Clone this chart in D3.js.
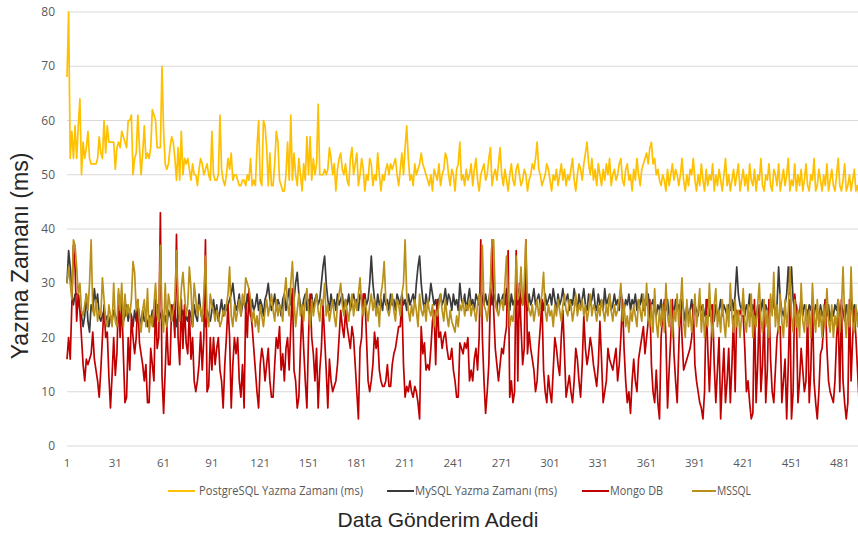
<!DOCTYPE html>
<html><head><meta charset="utf-8">
<script src="https://cdn.jsdelivr.net/npm/d3@7/dist/d3.min.js"></script>
<style>html,body{margin:0;padding:0;background:#fff;}svg{display:block;}</style>
</head><body>
<svg id="chart" width="858" height="534"></svg>
<script>
const seriesNames = ["PostgreSQL Yazma Zamanı (ms)", "MySQL Yazma Zamanı (ms)", "Mongo DB", "MSSQL"];
const xTickLabels = [1,31,61,91,121,151,181,211,241,271,301,331,361,391,421,451,481];
const yTickLabels = [0,10,20,30,40,50,60,70,80];
const xTitle = "Data Gönderim Adedi";
const yTitle = "Yazma Zamanı (ms)";

const postgres = [
68,80,53,58,53,59,53,59,64,50, 56,53,55,58,53,52,52,52,52,53, 57,54,53,60,54,59,56,56,56,56,
51,55,56,55,58,57,56,55,60,60, 61,50,53,54,61,55,50,54,59,53, 54,53,55,62,61,60,55,55,55,70,
58,52,51,52,55,57,56,53,49,55, 49,58,50,53,52,53,51,49,52,50, 50,48,51,53,52,50,51,52,50,49,
58,50,49,49,50,61,51,49,48,50, 53,51,54,49,50,50,49,48,48,49, 49,48,50,49,53,48,49,48,55,60,
49,48,60,59,55,48,54,48,48,52, 58,56,49,48,47,47,50,56,49,61, 49,54,50,48,53,50,47,52,49,57,
50,57,49,53,50,52,63,50,50,50, 51,50,51,55,53,50,52,47,51,53, 54,51,50,52,49,48,53,55,50,52,
54,48,50,53,51,47,50,49,53,52, 48,50,49,54,50,47,50,49,51,52, 50,52,51,52,53,50,48,51,54,50,
55,59,53,49,50,48,52,50,51,52, 54,52,51,50,49,48,50,47,51,50, 49,52,48,50,51,54,53,50,48,51,
50,47,51,52,56,49,50,48,51,49, 50,52,48,51,53,49,47,50,51,52, 49,50,53,55,48,50,51,49,52,55,
50,48,51,49,47,50,52,49,48,51, 52,50,48,49,51,50,47,49,50,52, 51,53,56,51,50,48,49,50,52,51,
49,47,50,49,51,48,50,52,49,51, 48,50,49,51,53,49,47,50,52,51, 49,52,54,56,52,50,53,49,51,48,
52,50,48,51,49,52,50,53,48,50, 51,49,50,52,53,49,48,51,52,49, 50,47,51,49,53,50,48,51,52,53,
54,52,55,56,52,53,50,51,49,48, 50,49,47,51,48,50,52,49,51,50, 48,50,53,49,47,50,48,51,50,53,
49,47,50,48,52,49,47,51,48,50, 49,52,47,50,48,51,49,47,50,53, 48,50,47,49,51,48,50,52,47,49,
51,48,50,47,52,49,48,51,47,50, 49,53,48,47,50,49,52,48,47,51, 50,48,52,47,49,51,48,50,53,47,
49,48,52,47,50,48,51,47,49,52, 48,47,50,49,53,47,48,51,49,47, 50,48,52,47,49,51,48,47,50,53,
48,47,49,52,47,48,50,47,49,51, 47,48,46,49,47,48,47,46,48,47
];

const mysql = [
30,36,33,28,26,28,28,28,25,24, 22,24,28,23,21,26,25,29,26,28, 24,23,24,25,23,24,22,24,23,25,
24,23,25,22,24,23,24,26,23,25, 24,22,25,23,26,24,22,25,23,24, 22,24,23,25,22,24,26,23,24,25,
23,24,22,25,24,23,26,24,22,25, 23,24,25,22,24,23,25,24,22,26, 24,23,28,25,23,24,22,25,24,23,
25,27,24,26,23,25,27,24,26,25, 26,27,28,30,27,25,26,28,24,26, 27,25,28,26,24,27,25,26,28,25,
27,26,24,27,28,30,27,25,26,28, 25,27,26,24,27,28,25,27,29,26, 28,27,30,32,28,26,25,27,28,25,
27,26,28,25,27,28,26,27,30,33, 35,30,27,25,28,26,27,25,28,26, 27,28,25,27,26,28,25,27,28,26,
27,25,28,27,26,28,26,27,30,35, 30,27,25,28,26,27,25,28,26,27, 25,28,26,27,25,28,27,26,28,26,
27,25,28,26,27,28,26,30,33,35, 30,27,25,28,26,27,30,28,26,27, 25,27,28,26,27,29,26,28,27,25,
28,26,27,25,30,27,26,28,25,27, 29,26,27,25,28,27,26,29,27,26, 28,26,27,29,26,28,27,25,28,26,
27,28,26,29,27,25,28,26,27,28, 26,29,27,26,28,27,25,28,26,27, 29,26,27,28,26,27,25,28,26,27,
28,26,29,27,25,28,26,27,29,26, 27,28,25,27,26,29,27,25,28,26, 27,29,26,25,28,26,27,29,26,25,
28,26,27,25,29,26,27,28,25,26, 28,26,27,25,29,26,25,27,26,28, 25,27,26,28,25,27,26,28,25,27,
26,28,25,26,27,25,24,26,25,27, 24,26,25,27,24,25,26,24,27,25, 26,24,27,25,23,26,24,25,27,24,
26,25,24,27,25,26,24,25,27,24, 26,25,23,26,24,25,27,24,26,25, 24,26,25,27,25,28,33,28,26,25,
27,24,26,25,28,24,26,25,23,26, 24,25,27,24,26,25,24,26,25,27, 24,26,33,27,25,24,26,28,33,28,
33,27,25,26,24,25,27,24,26,25, 24,26,25,27,24,26,25,23,26,24, 25,27,24,26,23,25,24,26,25,27,
24,26,25,23,26,24,25,27,24,26, 25,23,26,24,25,24,23,25,24,23
];

const mongo = [
16,20,16,26,37,33,23,28,25,20, 15,12,16,15,16,17,21,16,14,12, 9,14,20,26,20,21,13,7,13,20,
13,17,28,20,27,17,8,9,20,14, 24,20,17,20,27,19,17,15,12,15, 8,8,18,15,12,27,18,20,43,13,
6,14,22,15,15,26,25,20,39,20, 15,27,18,26,19,17,25,16,20,12, 10,12,15,21,14,20,38,10,11,20,
14,20,15,18,20,14,12,7,15,20, 26,20,7,15,20,17,20,12,9,15, 7,26,20,29,25,22,18,14,10,7,
15,18,16,12,15,18,12,9,9,15, 20,18,22,14,17,12,18,20,14,22, 29,14,12,7,9,18,25,18,12,7,
20,28,20,17,12,18,7,14,18,26, 20,14,7,16,12,10,11,12,15,20, 25,22,20,25,22,20,18,22,20,15,
10,5,18,20,28,28,20,12,10,12, 15,21,18,20,14,12,11,11,12,15, 11,11,15,17,18,20,22,22,27,15,
9,11,10,12,10,9,11,10,8,5, 22,17,19,14,15,14,18,23,25,15, 27,20,21,18,20,21,18,16,16,18,
14,12,9,9,19,18,17,19,18,20, 12,14,12,16,18,14,20,38,20,12, 6,10,15,28,38,25,18,15,12,15,
18,17,20,22,36,9,12,8,10,36, 12,30,22,15,18,38,17,21,18,16, 14,10,12,18,22,27,14,10,8,13,
10,8,14,20,18,15,13,20,25,17, 9,11,13,10,8,12,18,16,12,9, 15,24,18,15,17,20,18,15,13,11,
15,23,16,8,10,12,18,16,15,14, 16,18,12,15,20,27,18,12,8,10, 6,12,16,12,10,16,18,20,22,17,
20,23,27,15,10,8,14,8,5,20, 24,27,20,7,14,20,27,17,12,8, 18,27,20,14,15,16,17,18,20,26,
15,12,10,8,7,5,10,27,18,10, 18,26,15,8,14,20,5,12,18,8, 12,18,8,15,24,10,25,24,25,24,
24,18,10,12,8,5,6,27,8,15, 26,10,15,25,8,14,27,16,10,8, 14,20,22,22,8,12,16,5,15,27,
5,10,28,25,8,12,18,14,10,12, 25,8,14,27,12,8,5,10,17,18, 22,27,18,12,10,9,8,12,20,24,
10,27,12,8,5,8,27,12,20,25, 20,14,8,5,12,27,10,5,8,15
];

const mssql = [
30,33,30,27,38,37,33,28,30,25, 24,26,28,25,30,38,25,24,27,23, 25,24,31,27,23,22,26,24,22,30,
23,22,29,25,30,22,28,24,26,24, 27,34,32,25,27,23,21,25,27,22, 29,21,24,22,26,30,24,23,37,24,
21,30,22,28,26,23,25,27,36,27, 23,29,32,28,24,26,33,29,22,30, 27,24,26,25,23,28,35,24,22,28,
26,25,23,25,24,22,23,25,24,26, 28,33,24,22,26,23,25,27,24,28, 26,31,30,29,27,23,25,22,24,21,
26,24,22,25,27,24,26,28,25,23, 27,24,26,25,23,28,31,26,24,30, 34,27,22,25,28,24,26,23,27,29,
25,22,27,24,26,28,25,23,27,26, 30,24,26,23,25,27,24,22,26,28, 30,26,24,27,25,23,26,28,24,27,
25,28,31,26,24,27,25,23,26,28, 25,27,24,26,22,28,30,34,27,25, 24,26,28,25,23,27,26,24,28,30,
38,28,25,23,26,24,27,25,22,28, 25,24,26,23,27,25,24,26,22,25, 24,26,28,25,23,27,24,22,25,23,
22,21,24,22,26,25,27,24,26,25, 27,24,26,25,23,26,28,24,37,26, 25,23,26,30,38,38,27,25,24,26,
27,25,30,35,28,22,24,23,26,35, 27,28,33,26,30,38,27,25,24,26, 23,25,27,24,26,28,32,25,23,26,
24,25,22,26,24,27,25,23,26,28, 25,24,27,26,23,25,28,24,26,25, 27,24,26,23,25,28,24,26,25,23,
26,24,27,25,23,26,24,28,25,23, 26,24,25,27,30,23,26,22,24,21, 25,23,26,24,22,27,25,23,28,24,
30,24,22,26,21,29,23,20,25,22, 26,21,30,24,22,27,20,25,23,28, 22,26,31,23,20,27,22,25,21,24,
28,22,25,29,21,26,20,24,22,30, 23,20,26,29,22,25,21,27,23,20, 26,22,30,24,21,27,22,25,20,24,
29,23,21,26,22,28,20,24,22,26, 30,23,21,27,22,25,20,28,24,32, 22,26,21,28,23,20,27,22,25,33,
24,21,27,22,25,20,30,23,21,26, 22,25,20,30,24,21,27,22,25,20, 26,22,29,23,21,26,20,24,22,27,
21,25,33,24,20,26,22,33,23,21, 26,22,25,20,27,23,21,25,22,24
];

const colors = ["#FFC000", "#3A3A3A", "#C00000", "#B8901A"];
const allSeries = [postgres, mysql, mongo, mssql];

const W = 858, H = 534;
const svg = d3.select("#chart");
const x = d3.scaleLinear().domain([1, 500]).range([67, 67 + 499 * 1.61]);
const y = d3.scaleLinear().domain([0, 80]).range([446, 12]);

svg.append("defs").append("clipPath").attr("id", "clip")
  .append("rect").attr("x", 0).attr("y", 0).attr("width", W).attr("height", 450);

// gridlines
svg.append("g").selectAll("line").data(yTickLabels).join("line")
  .attr("x1", 67).attr("x2", W)
  .attr("y1", d => y(d)).attr("y2", d => y(d))
  .attr("stroke", "#d9d9d9").attr("stroke-width", 1);

// y tick labels
svg.append("g").selectAll("text").data(yTickLabels).join("text")
  .attr("x", 55).attr("y", d => y(d)).attr("dy", "0.35em")
  .attr("text-anchor", "end")
  .attr("font-family", "Open Sans, Liberation Sans, sans-serif")
  .attr("font-size", 12).attr("fill", "#595959")
  .text(d => d);

// x tick labels
svg.append("g").selectAll("text").data(xTickLabels).join("text")
  .attr("x", d => x(d)).attr("y", 467)
  .attr("text-anchor", "middle")
  .attr("font-family", "Open Sans, Liberation Sans, sans-serif")
  .attr("font-size", 11.5).attr("fill", "#595959")
  .text(d => d);

// lines
const line = d3.line().x((d, i) => x(i + 1)).y(d => y(d));
const lg = svg.append("g").attr("clip-path", "url(#clip)");
allSeries.forEach((s, k) => {
  lg.append("path").datum(s)
    .attr("d", line)
    .attr("fill", "none")
    .attr("stroke", colors[k])
    .attr("stroke-width", 1.7)
    .attr("stroke-linejoin", "round");
});

// legend
const legendItems = [
  {x1: 168, x2: 195, tx: 199, tw: 164},
  {x1: 387, x2: 414, tx: 415, tw: 142},
  {x1: 582, x2: 609, tx: 610, tw: 53},
  {x1: 692, x2: 716, tx: 717, tw: 34}
];
const leg = svg.append("g");
legendItems.forEach((it, k) => {
  leg.append("line").attr("x1", it.x1).attr("x2", it.x2).attr("y1", 491).attr("y2", 491)
    .attr("stroke", colors[k]).attr("stroke-width", 2);
  leg.append("text").attr("x", it.tx).attr("y", 491).attr("dy", "0.35em")
    .attr("font-family", "Open Sans, Liberation Sans, sans-serif")
    .attr("font-size", 12).attr("fill", "#595959")
    .attr("textLength", it.tw).attr("lengthAdjust", "spacingAndGlyphs")
    .text(seriesNames[k]);
});

// axis titles
svg.append("text").attr("x", 438).attr("y", 527).attr("text-anchor", "middle")
  .attr("font-family", "Liberation Sans, Arial, sans-serif")
  .attr("font-size", 21).attr("fill", "#262626")
  .text(xTitle);
svg.append("text").attr("transform", "translate(28,256) rotate(-90)")
  .attr("text-anchor", "middle")
  .attr("font-family", "Liberation Sans, Arial, sans-serif")
  .attr("font-size", 23).attr("fill", "#262626")
  .text(yTitle);
</script>
</body></html>
